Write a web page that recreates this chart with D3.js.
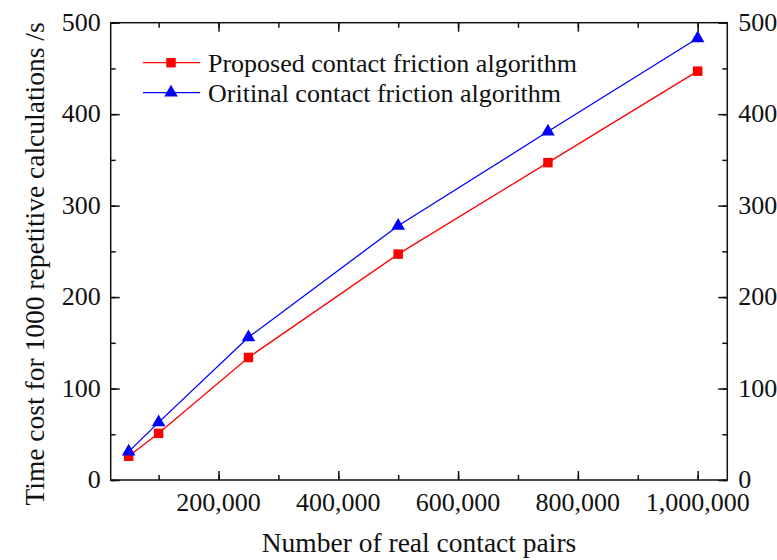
<!DOCTYPE html>
<html><head><meta charset="utf-8">
<script src="https://cdn.jsdelivr.net/npm/d3@7"></script>
<style>body{margin:0;background:#fff}svg{display:block}text{font-family:"Liberation Serif","Times New Roman",serif;fill:#111}</style>
</head><body><div id="chart"></div>
<script>
const xValues = [50000, 100000, 250000, 500000, 750000, 1000000];
const proposed = [26, 51, 134, 247, 347, 447];
const original = [31, 63, 156, 278, 381, 483];
const seriesNames = ["Proposed contact friction algorithm", "Oritinal contact friction algorithm"];
const xTicks = [200000, 400000, 600000, 800000, 1000000];
const yTicks = [0, 100, 200, 300, 400, 500];

const W = 777, H = 560;
const L = 110.7, R = 727.3, T = 22.7, B = 480;
const svg = d3.select("#chart").append("svg").attr("width", W).attr("height", H);
const x = d3.scaleLinear().domain([20000, 1049500]).range([L, R]);
const y = d3.scaleLinear().domain([0, 500]).range([B, T]);
const fmt = d3.format(",");
const xMinor = d3.range(100000, 1049500, 100000);
const yMinor = d3.range(0, 501, 50);

// minor ticks (inward)
svg.append("g").attr("transform", `translate(0,${B})`).call(d3.axisTop(x).tickValues(xMinor).tickSize(5).tickFormat("").tickSizeOuter(0));
svg.append("g").attr("transform", `translate(0,${T})`).call(d3.axisBottom(x).tickValues(xMinor).tickSize(5).tickFormat("").tickSizeOuter(0));
svg.append("g").attr("transform", `translate(${L},0)`).call(d3.axisRight(y).tickValues(yMinor).tickSize(5).tickFormat("").tickSizeOuter(0));
svg.append("g").attr("transform", `translate(${R},0)`).call(d3.axisLeft(y).tickValues(yMinor).tickSize(5).tickFormat("").tickSizeOuter(0));
// major ticks (inward)
svg.append("g").attr("transform", `translate(0,${B})`).call(d3.axisTop(x).tickValues(xTicks).tickSize(9).tickFormat("").tickSizeOuter(0));
svg.append("g").attr("transform", `translate(0,${T})`).call(d3.axisBottom(x).tickValues(xTicks).tickSize(9).tickFormat("").tickSizeOuter(0));
svg.append("g").attr("transform", `translate(${L},0)`).call(d3.axisRight(y).tickValues(yTicks).tickSize(9).tickFormat("").tickSizeOuter(0));
svg.append("g").attr("transform", `translate(${R},0)`).call(d3.axisLeft(y).tickValues(yTicks).tickSize(9).tickFormat("").tickSizeOuter(0));
svg.selectAll(".domain").remove();
svg.selectAll(".tick line").attr("stroke", "#111").attr("stroke-width", 1.5);

// frame
svg.append("rect").attr("x", L).attr("y", T).attr("width", R - L).attr("height", B - T)
  .attr("fill", "none").attr("stroke", "#111").attr("stroke-width", 1.5);

// tick labels
svg.append("g").selectAll("text").data(xTicks).join("text")
  .attr("x", d => x(d)).attr("y", 511).attr("text-anchor", "middle").attr("font-size", 26).text(d => fmt(d));
svg.append("g").selectAll("text").data(yTicks).join("text")
  .attr("x", L - 10).attr("y", d => y(d) + 8).attr("text-anchor", "end").attr("font-size", 26).text(d => d);
svg.append("g").selectAll("text").data(yTicks).join("text")
  .attr("x", R + 11).attr("y", d => y(d) + 8).attr("text-anchor", "start").attr("font-size", 26).text(d => d);

// titles
svg.append("text").attr("x", 419).attr("y", 552).attr("text-anchor", "middle").attr("font-size", 27.5).text("Number of real contact pairs");
svg.append("text").attr("transform", `translate(44,264) rotate(-90)`).attr("text-anchor", "middle").attr("font-size", 27.5)
  .text("Time cost for 1000 repetitive calculations /s");

const line = d3.line().x(d => x(d[0])).y(d => y(d[1]));
const seriesList = [
  { name: seriesNames[0], vals: proposed, color: "#ff0000", shape: d3.symbolSquare, size: 90 },
  { name: seriesNames[1], vals: original, color: "#0000ff", shape: d3.symbolTriangle, size: 80 }
];
seriesList.forEach(s => {
  const pts = xValues.map((v, i) => [v, s.vals[i]]);
  svg.append("path").attr("d", line(pts)).attr("fill", "none").attr("stroke", s.color).attr("stroke-width", 1.3);
  svg.append("g").selectAll("path").data(pts).join("path")
    .attr("transform", d => `translate(${x(d[0])},${y(d[1])})`)
    .attr("d", d3.symbol().type(s.shape).size(s.size)).attr("fill", s.color);
});

// legend
seriesList.forEach((s, i) => {
  const ly = 62.7 + i * 30;
  svg.append("line").attr("x1", 143).attr("x2", 200).attr("y1", ly).attr("y2", ly).attr("stroke", s.color).attr("stroke-width", 1.3);
  svg.append("path").attr("transform", `translate(171,${ly})`).attr("d", d3.symbol().type(s.shape).size(s.size)).attr("fill", s.color);
  svg.append("text").attr("x", 208).attr("y", ly + 9).attr("font-size", 26).text(s.name);
});
</script></body></html>
